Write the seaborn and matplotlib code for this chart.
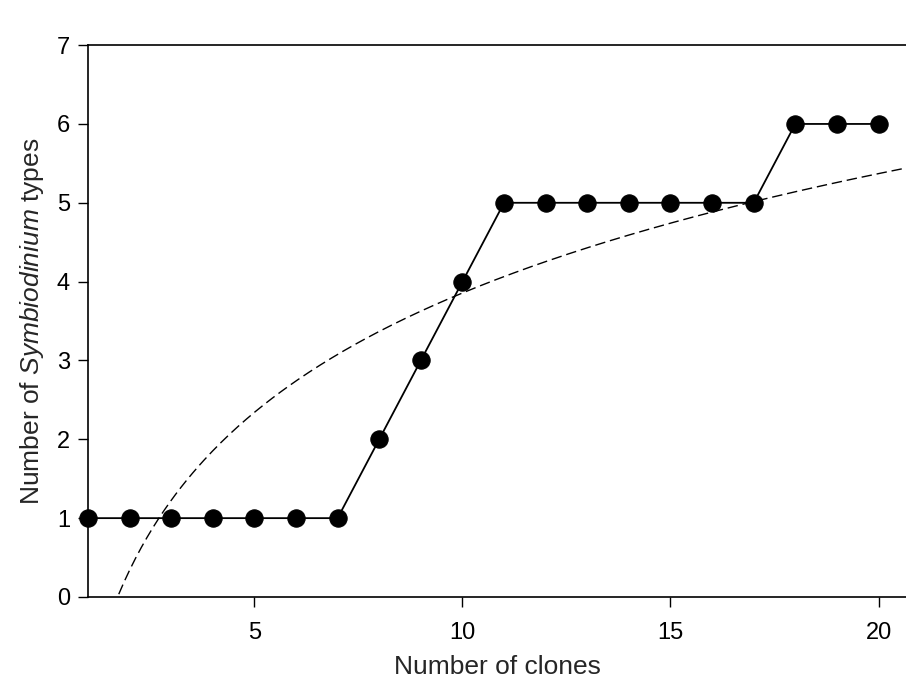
import numpy as np
import pandas as pd
import matplotlib
matplotlib.use("Agg")
import matplotlib.pyplot as plt
import seaborn as sns

# data
clones = [1, 2, 3, 4, 5, 6, 7, 8, 9, 10, 11, 12, 13, 14, 15, 16, 17, 18, 19, 20]
types = [1, 1, 1, 1, 1, 1, 1, 2, 3, 4, 5, 5, 5, 5, 5, 5, 5, 6, 6, 6]
x_ticks = [5, 10, 15, 20]
y_ticks = [0, 1, 2, 3, 4, 5, 6, 7]

sns.set_style("ticks")
plt.rcParams["font.family"] = ["Liberation Sans", "DejaVu Sans"]
plt.rcParams["mathtext.fontset"] = "custom"
plt.rcParams["mathtext.it"] = "Liberation Sans:italic"
plt.rcParams["mathtext.rm"] = "Liberation Sans"

df = pd.DataFrame({"clones": clones, "types": types})

# logarithmic fit y = a + b*ln(x)
b, a = np.polyfit(np.log(df["clones"]), df["types"], 1)
xf = np.linspace(1.05, 21.5, 300)
fit = pd.DataFrame({"x": xf, "y": a + b * np.log(xf)})

fig = plt.figure(figsize=(9.06, 6.94), dpi=100)
ax = fig.add_axes([0.0971, 0.1398, 0.9029, 0.7952])

sns.lineplot(data=fit, x="x", y="y", ax=ax, color="black", lw=1.0,
             linestyle=(0, (7.5, 3.5)))
sns.lineplot(data=df, x="clones", y="types", ax=ax, color="black", lw=1.3,
             marker="o", markersize=12.5, markeredgecolor="black", clip_on=False,
             zorder=5)

ax.set_xlim(1, 20.66)
ax.set_ylim(0, 7)
ax.set_xticks(x_ticks)
ax.set_yticks(y_ticks)
ax.tick_params(direction="out", length=7, width=1, labelsize=17, pad=11,
               colors="black")
ax.tick_params(axis="y", pad=6)
ax.spines["right"].set_visible(False)
for s in ["left", "bottom", "top"]:
    ax.spines[s].set_linewidth(1.2)
    ax.spines[s].set_color("black")

ax.set_xlabel("Number of clones", fontsize=19, labelpad=8)
ax.set_ylabel("Number of $\\it{Symbiodinium}$ types", fontsize=19, labelpad=8)

fig.savefig("out.png", dpi=100)
